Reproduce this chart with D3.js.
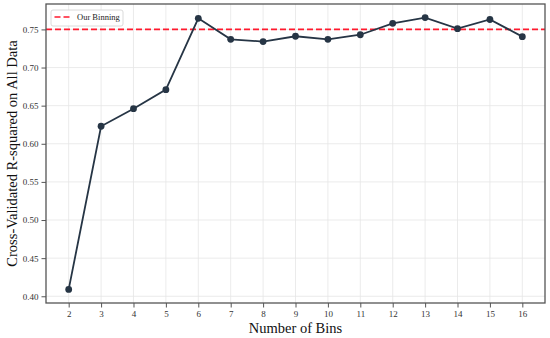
<!DOCTYPE html>
<html>
<head>
<meta charset="utf-8">
<script src="https://cdn.jsdelivr.net/npm/d3@7"></script>
<style>
  body { margin: 0; background: #fff; }
  svg text { font-family: "Liberation Serif", "DejaVu Serif", serif; }
</style>
</head>
<body>
<div id="chart"></div>
<script>
// data
const bins = [2, 3, 4, 5, 6, 7, 8, 9, 10, 11, 12, 13, 14, 15, 16];
const rSquared = [0.409, 0.623, 0.646, 0.671, 0.7645, 0.737, 0.734, 0.741, 0.737, 0.743, 0.758, 0.7655, 0.751, 0.763, 0.7405];
const yTicks = [0.40, 0.45, 0.50, 0.55, 0.60, 0.65, 0.70, 0.75];
const ourBinning = 0.75;
const legendLabel = "Our Binning";

const W = 550, H = 338;
const margin = {top: 4, right: 5, bottom: 35, left: 46};
const width = W - margin.left - margin.right;
const height = H - margin.top - margin.bottom;

const svg = d3.select("#chart").append("svg")
  .attr("width", W)
  .attr("height", H);

const g = svg.append("g")
  .attr("transform", `translate(${margin.left},${margin.top})`);

// matplotlib-style 5% padding
const xPad = (d3.max(bins) - d3.min(bins)) * 0.05;
const x = d3.scaleLinear()
  .domain([d3.min(bins) - xPad, d3.max(bins) + xPad])
  .range([0, width]);
const yPad = (d3.max(rSquared) - d3.min(rSquared)) * 0.05;
const y = d3.scaleLinear()
  .domain([d3.min(rSquared) - yPad, d3.max(rSquared) + yPad])
  .range([height, 0]);

// grid
g.append("g")
  .selectAll("line")
  .data(bins)
  .enter().append("line")
  .attr("x1", d => x(d)).attr("x2", d => x(d))
  .attr("y1", 0).attr("y2", height)
  .attr("stroke", "#e6e6e6").attr("stroke-width", 0.8);
g.append("g")
  .selectAll("line")
  .data(yTicks)
  .enter().append("line")
  .attr("x1", 0).attr("x2", width)
  .attr("y1", d => y(d)).attr("y2", d => y(d))
  .attr("stroke", "#e6e6e6").attr("stroke-width", 0.8);

// reference line
g.append("line")
  .attr("x1", 0).attr("x2", width)
  .attr("y1", y(ourBinning)).attr("y2", y(ourBinning))
  .attr("stroke", "#ff1a2e")
  .attr("stroke-width", 1.6)
  .attr("stroke-dasharray", "6,3");

// line + markers
const line = d3.line()
  .x((d, i) => x(bins[i]))
  .y(d => y(d));
g.append("path")
  .datum(rSquared)
  .attr("fill", "none")
  .attr("stroke", "#263545")
  .attr("stroke-width", 1.8)
  .attr("d", line);
g.selectAll("circle")
  .data(rSquared)
  .enter().append("circle")
  .attr("cx", (d, i) => x(bins[i]))
  .attr("cy", d => y(d))
  .attr("r", 3.4)
  .attr("fill", "#263545");

// axes
const xAxis = g.append("g")
  .attr("transform", `translate(0,${height})`)
  .call(d3.axisBottom(x).tickValues(bins).tickFormat(d3.format("d")).tickSize(4.5).tickPadding(3));
const yAxis = g.append("g")
  .call(d3.axisLeft(y).tickValues(yTicks).tickFormat(d3.format(".2f")).tickSize(4.5).tickPadding(3));
[xAxis, yAxis].forEach(a => {
  a.select(".domain").remove();
  a.selectAll(".tick line").attr("stroke", "#555");
  a.selectAll(".tick text")
    .attr("fill", "#333")
    .style("font-size", "9px")
    .style("font-family", "'Liberation Serif', serif");
});

// frame
g.append("rect")
  .attr("width", width).attr("height", height)
  .attr("fill", "none")
  .attr("stroke", "#555")
  .attr("stroke-width", 1.3);

// axis labels
svg.append("text")
  .attr("x", margin.left + width / 2)
  .attr("y", H - 5)
  .attr("text-anchor", "middle")
  .style("font-size", "14.5px")
  .attr("fill", "#111")
  .text("Number of Bins");
svg.append("text")
  .attr("transform", `translate(17,${margin.top + height / 2}) rotate(-90)`)
  .attr("text-anchor", "middle")
  .style("font-size", "14.5px")
  .attr("fill", "#111")
  .text("Cross-Validated R-squared on All Data");

// legend
const legend = g.append("g").attr("transform", "translate(5,6)");
legend.append("rect")
  .attr("width", 72).attr("height", 16)
  .attr("rx", 2)
  .attr("fill", "#fff")
  .attr("fill-opacity", 0.85)
  .attr("stroke", "#d0d0d0")
  .attr("stroke-width", 0.8);
legend.append("line")
  .attr("x1", 3.5).attr("x2", 19.5)
  .attr("y1", 7).attr("y2", 7)
  .attr("stroke", "#ff1a2e")
  .attr("stroke-width", 1.6)
  .attr("stroke-dasharray", "6,3");
legend.append("text")
  .attr("x", 26).attr("y", 10)
  .style("font-size", "8.5px")
  .attr("fill", "#222")
  .text(legendLabel);
</script>
</body>
</html>
